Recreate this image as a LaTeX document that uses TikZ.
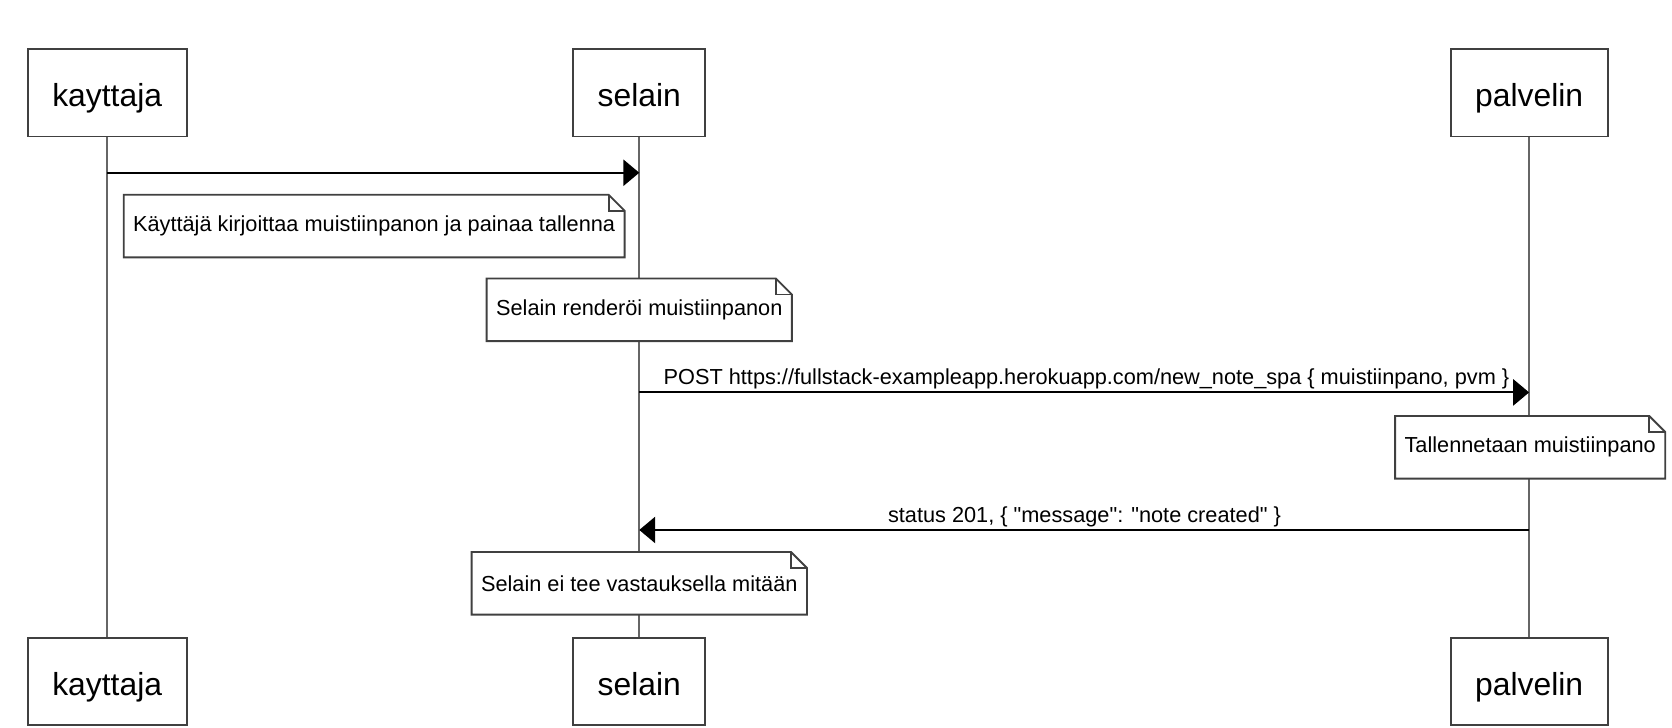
\documentclass[tikz,border=0pt]{standalone}
\usepackage{fontspec}
\setmainfont{Liberation Sans}[Ligatures=TeXOff]
\usetikzlibrary{arrows.meta}
\newcommand{\notefold}[1]{%
  \draw[noteline] (#1.north west) -- ([xshift=-0.3cm]#1.north east) -- ([yshift=-0.3cm]#1.north east) -- (#1.south east) -- (#1.south west) -- cycle;
  \draw[noteline] ([xshift=-0.3cm]#1.north east) |- ([yshift=-0.3cm]#1.north east);
}
\begin{document}
\begin{tikzpicture}[x=0.02cm,y=-0.02cm,
  actor/.style={draw=black!75,line width=1pt,fill=white,minimum height=1.64cm,inner xsep=0.46cm,text height=14.7pt,text depth=0pt,font=\fontsize{17}{20}\selectfont},
  note/.style={fill=white,minimum height=1.16cm,inner xsep=0.17cm,font=\fontsize{11.6}{14}\selectfont},
  noteline/.style={draw=black!75,line width=1pt},
  lifeline/.style={draw=black!60,line width=1pt},
  msg/.style={draw=black,line width=1pt,-{Triangle[length=8.5pt,width=14pt]}},
  lbl/.style={font=\fontsize{11.6}{14}\selectfont,inner sep=0pt}]
\useasboundingbox (0,0) rectangle (1568,682.7);
\node[actor] (kayttajaTop) at (100.5,87) {kayttaja};
\node[actor] (selainTop) at (599.5,87) {selain};
\node[actor] (palvelinTop) at (1434,87) {palvelin};
\node[actor] (kayttajaBot) at (100.5,639) {kayttaja};
\node[actor] (selainBot) at (599.5,639) {selain};
\node[actor] (palvelinBot) at (1434,639) {palvelin};
\draw[lifeline] (kayttajaTop) -- (kayttajaBot);
\draw[lifeline] (selainTop) -- (selainBot);
\draw[lifeline] (palvelinTop) -- (palvelinBot);
\coordinate (r1) at (0,162);
\coordinate (r2) at (0,368);
\coordinate (r3) at (0,497);
\draw[msg] (kayttajaTop |- r1) -- (selainTop |- r1);
\node[note,anchor=west] (noteKirjoita) at (116,212) {Käyttäjä kirjoittaa muistiinpanon ja painaa tallenna};
\notefold{noteKirjoita}
\node[note] (noteRenderoi) at (599.5,290.5) {Selain renderöi muistiinpanon};
\notefold{noteRenderoi}
\draw[msg] (selainTop |- r2) -- (palvelinTop |- r2);
\node[lbl,anchor=base west] (postLbl) at (622,361) {POST https://fullstack-exampleapp.herokuapp.com/new\_note\_spa \{ muistiinpano, pvm \}};
\node[note] (noteTallenna) at (1435,419.5) {Tallennetaan muistiinpano};
\notefold{noteTallenna}
\draw[msg] (palvelinTop |- r3) -- (selainTop |- r3);
\node[lbl,anchor=base] (statusLbl) at (1017,490) {status 201, \{ "message": "note created" \}};
\node[note] (noteVastaus) at (599.5,547) {Selain ei tee vastauksella mitään};
\notefold{noteVastaus}
\end{tikzpicture}
\end{document}
